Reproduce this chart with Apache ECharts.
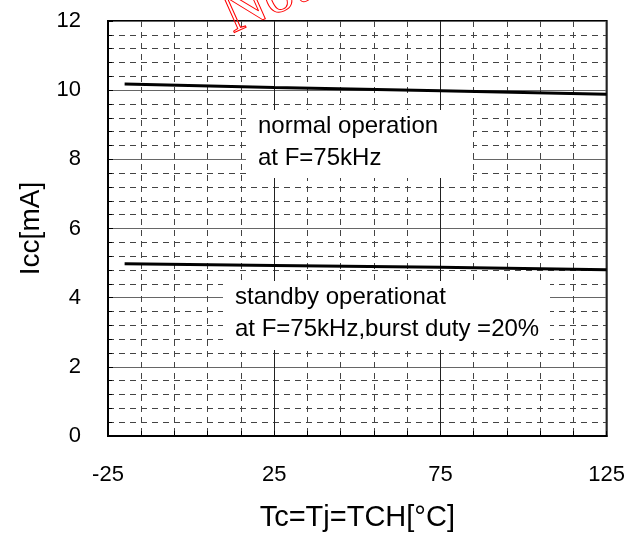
<!doctype html>
<html lang="en">
<head>
    <meta charset="UTF-8">
    <title>Icc vs Tc</title>
    <script src="https://cdn.jsdelivr.net/npm/echarts@6/dist/echarts.min.js"></script>
    <style>
        html, body { margin: 0; padding: 0; background: #fff; }
        #chart { width: 628px; height: 537px; }
    </style>
</head>
<body>
<div id="chart"></div>
<script>
    // temperature points (°C) where the curves were read
    const temps = [-20, 25, 75, 125];
    // Icc in mA
    const normalIcc = [10.18, 10.08, 9.98, 9.88];
    const standbyIcc = [4.98, 4.93, 4.88, 4.81];

    const xTicks = [-25, 25, 75, 125];
    const yTicks = [0, 2, 4, 6, 8, 10, 12];

    const normalText = ['normal operation', 'at F=75kHz'];
    const standbyText = ['standby operationat', 'at F=75kHz,burst duty =20%'];

    const font = '"Liberation Sans", Arial, sans-serif';
    const minorDash = { color: '#444', width: 1, type: [6, 5] };

    const chart = echarts.init(document.getElementById('chart'));

    // white box that hides the grid behind a note
    function textBox(x, y, w, h, lines) {
        return [
            {
                type: 'rect', z: 50,
                shape: { x: x, y: y, width: w, height: h },
                style: { fill: '#fff' }
            },
            {
                type: 'text', z: 51,
                style: {
                    x: x + 12, y: y,
                    text: lines.join('\n'),
                    font: '24px ' + font,
                    lineHeight: 32,
                    fill: '#000',
                    verticalAlign: 'top'
                }
            }
        ];
    }

    const option = {
        animation: false,
        grid: {
            left: 108, right: 19, top: 21, bottom: 99,
            show: true, borderColor: '#000', borderWidth: 2
        },
        xAxis: {
            type: 'value',
            min: xTicks[0], max: xTicks[xTicks.length - 1], interval: 50,
            name: 'Tc=Tj=TCH[\u00b0C]',
            nameLocation: 'middle', nameGap: 67,
            nameTextStyle: { fontFamily: font, fontSize: 29, color: '#000' },
            axisLine: { show: true, onZero: false, lineStyle: { color: '#000', width: 2 } },
            axisTick: { show: true, inside: true, length: 5, lineStyle: { color: '#000' } },
            minorTick: { show: true, splitNumber: 5, length: 5, lineStyle: { color: '#000' } },
            axisLabel: { fontFamily: font, fontSize: 22, color: '#000', margin: 28 },
            splitLine: { show: true, lineStyle: { color: '#222', width: 1 } },
            minorSplitLine: { show: true, lineStyle: minorDash }
        },
        yAxis: {
            type: 'value',
            min: yTicks[0], max: yTicks[yTicks.length - 1], interval: 2,
            name: 'Icc[mA]',
            nameLocation: 'middle', nameGap: 63,
            nameTextStyle: { fontFamily: font, fontSize: 28, color: '#000' },
            axisLine: { show: true, onZero: false, lineStyle: { color: '#000', width: 2 } },
            axisTick: { show: true, inside: true, length: 5, lineStyle: { color: '#000' } },
            minorTick: { show: true, splitNumber: 5, length: 4, lineStyle: { color: '#000' } },
            axisLabel: { fontFamily: font, fontSize: 22, color: '#000', margin: 27 },
            splitLine: { show: true, lineStyle: { color: '#666', width: 1 } },
            minorSplitLine: { show: true, lineStyle: minorDash }
        },
        series: [
            {
                name: 'normal',
                type: 'line',
                data: temps.map((t, i) => [t, normalIcc[i]]),
                symbol: 'none',
                lineStyle: { color: '#000', width: 3 },
                z: 20
            },
            {
                name: 'standby',
                type: 'line',
                data: temps.map((t, i) => [t, standbyIcc[i]]),
                symbol: 'none',
                lineStyle: { color: '#000', width: 3 },
                z: 20
            }
        ],
        graphic: [
            ...textBox(246, 110, 227, 68, normalText),
            ...textBox(223, 281, 327, 69, standbyText),
            {
                // red outlined watermark, mostly cut off at the top
                type: 'text',
                x: 233, y: 34,
                rotation: 0.42,
                z: 60,
                style: {
                    x: 0, y: 13,
                    text: 'Not recommended for new designs',
                    font: '58px "Liberation Serif", serif',
                    fill: 'rgba(255,255,255,0)',
                    stroke: '#ff0000',
                    lineWidth: 1,
                    verticalAlign: 'bottom'
                }
            }
        ]
    };

    chart.setOption(option);
</script>
</body>
</html>
